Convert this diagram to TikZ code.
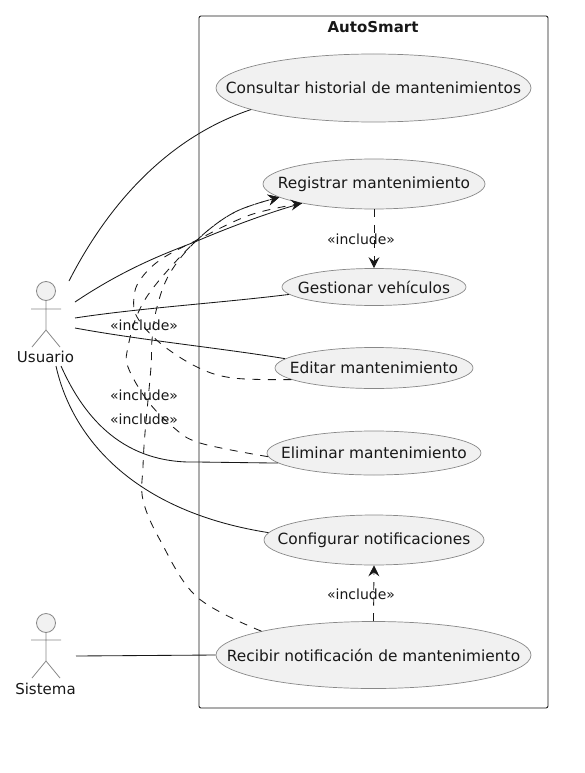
\documentclass[tikz,border=0pt]{standalone}
\usepackage{fontspec}
\setmainfont{DejaVu Sans}
\usetikzlibrary{arrows.meta,shapes.geometric}
\definecolor{uc}{HTML}{F1F1F1}
\definecolor{ln}{HTML}{181818}
\definecolor{ed}{HTML}{888888}
\tikzset{
 usecase/.style={ellipse,draw=ed,fill=uc,line width=0.7pt,inner sep=0pt,
   label={[text=ln,inner sep=0pt,font=\fontsize{15.4}{16}\selectfont]center:#1}},
 lbl/.style={text=ln,inner sep=0pt,font=\fontsize{15}{16}\selectfont},
 inc/.style={text=ln,inner sep=0pt,font=\fontsize{14}{15}\selectfont},
 assoc/.style={draw=ln,line width=0.85pt},
 dep/.style={draw=ln,line width=0.85pt,dash pattern=on 8pt off 7.5pt,-{Stealth[length=11pt,width=11pt,inset=4pt]}},
 stick/.style={draw=ed,line width=0.8pt},
}
\begin{document}
\begin{tikzpicture}[x=1pt,y=-1pt]
\useasboundingbox (0,0) rectangle (585,773);
\draw[draw=ln,line width=0.85pt,rounded corners=2pt] (199,16) rectangle (548,708);
\node[lbl,font=\fontsize{15}{16}\selectfont\bfseries] (title) at (373,27) {AutoSmart};
% actors
\draw[stick,fill=uc] (46,291) circle (9.5);
\draw[stick] (46,300.5)--(46,330) (31,309)--(61,309) (32,347)--(46,330)--(60,347);
\node[lbl] (usuario) at (45.5,357) {Usuario};
\draw[stick,fill=uc] (46,623) circle (9.5);
\draw[stick] (46,632.5)--(46,661) (31,640)--(61,640) (32,678)--(46,661)--(60,678);
\node[lbl] (sistema) at (45.5,689) {Sistema};
% use cases
\node[usecase={Consultar historial de mantenimientos},minimum width=315pt,minimum height=68pt] (c) at (373.5,88) {};
\node[usecase={Registrar mantenimiento},minimum width=222pt,minimum height=50pt] (r) at (374,184) {};
\node[usecase={Gestionar vehículos},minimum width=184pt,minimum height=37pt] (g) at (374,287) {};
\node[usecase={Editar mantenimiento},minimum width=198pt,minimum height=41pt] (e) at (374,368) {};
\node[usecase={Eliminar mantenimiento},minimum width=214pt,minimum height=44pt] (l) at (374,453) {};
\node[usecase={Configurar notificaciones},minimum width=220pt,minimum height=50pt] (f) at (374,540) {};
\node[usecase={Recibir notificación de mantenimiento},minimum width=315pt,minimum height=67pt] (n) at (373.5,655) {};
% associations
\coordinate (u1) at (69,281);
\coordinate (u2) at (75,302);
\coordinate (u3) at (75,318);
\coordinate (u4) at (75,328);
\coordinate (u5) at (61,366);
\coordinate (u6) at (56,366);
\coordinate (s1) at (76,656);
\draw[assoc] (u1) .. controls (113,195) and (175,135) .. (c.190);
\draw[assoc] (u2) .. controls (130,265) and (175,250) .. (197,241) .. controls (230,227) and (270,212) .. (r.195);
\draw[assoc] (u3) .. controls (140,308) and (220,303) .. (g.185);
\draw[assoc] (u4) .. controls (140,340) and (220,348) .. (e.174);
\draw[assoc] (u5) .. controls (85,420) and (125,464) .. (197,462) -- (l.186);
\draw[assoc] (u6) .. controls (70,430) and (125,510) .. (f.176);
\draw[assoc] (s1) -- (n.180);
% includes
\draw[dep] plot[smooth,tension=0.6] coordinates {(e.188) (233,378) (197,367) (160,343) (137,317) (134,297) (140,280) (160,260) (197,240) (250,215) (r.195)};
\draw[dep] plot[smooth,tension=0.6] coordinates {(l.182) (200,443) (173,427) (147,400) (128,367) (128,347) (138,313) (157,283) (197,240) (235,212) (r.188)};
\draw[dep] plot[smooth,tension=0.6] coordinates {(n.168) (197,597) (160,540) (143,500) (143,467) (145,433) (151,367) (152,340) (157,307) (170,273) (197,240) (235,212) (r.188)};
\draw[dep] (r.south) -- (g.north);
\draw[dep] (n.north) -- (f.south);
% labels
\node[inc] (i1) at (361,239) {«include»};
\node[inc] (i2) at (144,325) {«include»};
\node[inc] (i3) at (144,395) {«include»};
\node[inc] (i4) at (144,419) {«include»};
\node[inc] (i5) at (361,594) {«include»};
\end{tikzpicture}
\end{document}
